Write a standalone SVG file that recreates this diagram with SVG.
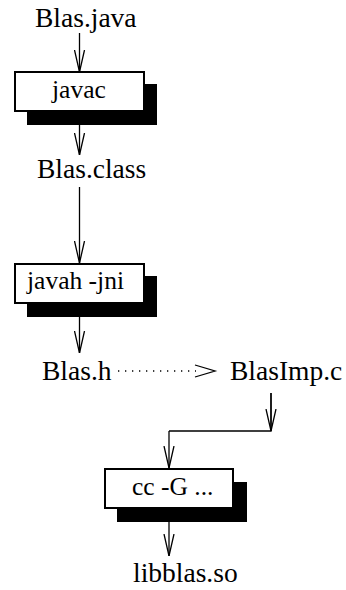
<svg xmlns="http://www.w3.org/2000/svg" width="346" height="590" viewBox="0 0 346 590">
<defs>
<marker id="v" viewBox="0 0 22 12" refX="22" refY="6" markerWidth="22" markerHeight="12" markerUnits="userSpaceOnUse" orient="auto">
<polyline points="0,1 22,6 0,11" fill="none" stroke="#000" stroke-width="1.3"/>
</marker>
<style>
.box{fill:#fff;stroke:#000;stroke-width:2}
.sh{fill:#000}
.ln{fill:none;stroke:#000;stroke-width:1.3}
.dot{fill:none;stroke:#000;stroke-width:1.3;stroke-dasharray:1.3 5.7}
text{font-family:"Liberation Serif",serif !important}
</style>
</defs>
<rect width="346" height="590" fill="#fff"/>
<g id="connectors">
<line class="ln" x1="79.5" y1="33" x2="79.5" y2="72" marker-end="url(#v)"/>
<line class="ln" x1="79.5" y1="125" x2="79.5" y2="155" marker-end="url(#v)"/>
<line class="ln" x1="79.5" y1="187" x2="79.5" y2="263" marker-end="url(#v)"/>
<line class="ln" x1="79.5" y1="317" x2="79.5" y2="353" marker-end="url(#v)"/>
<line class="dot" x1="118" y1="371" x2="196" y2="371"/>
<polyline class="ln" points="195,365 215,371 195,377"/>
<polyline class="ln" points="271,393 271,431 169,431"/>
<line class="ln" x1="271" y1="393" x2="271" y2="431" marker-end="url(#v)"/>
<line class="ln" x1="169" y1="431" x2="169" y2="468" marker-end="url(#v)"/>
<line class="ln" x1="169" y1="522" x2="169" y2="556" marker-end="url(#v)"/>
</g>
<g id="blas-java"><text x="35" y="27" style="font-family:'Liberation Serif',serif" font-size="27.5">Blas.java</text></g>
<g id="javac">
<rect class="sh" x="27" y="84" width="130" height="41"/>
<rect class="box" x="15" y="72" width="129" height="39"/>
<text x="52" y="98" style="font-family:'Liberation Serif',serif" font-size="25.5">javac</text>
</g>
<g id="blas-class"><text x="37" y="178" style="font-family:'Liberation Serif',serif" font-size="27.5">Blas.class</text></g>
<g id="javah">
<rect class="sh" x="27" y="276" width="130" height="41"/>
<rect class="box" x="15" y="264" width="129" height="39"/>
<text x="27" y="289" style="font-family:'Liberation Serif',serif" font-size="25.5">javah -jni</text>
</g>
<g id="blas-h"><text x="42" y="380" style="font-family:'Liberation Serif',serif" font-size="27.5">Blas.h</text></g>
<g id="blasimp-c"><text x="230" y="380" style="font-family:'Liberation Serif',serif" font-size="27.5">BlasImp.c</text></g>
<g id="cc">
<rect class="sh" x="117" y="482" width="130" height="40"/>
<rect class="box" x="105" y="469" width="128" height="39"/>
<text x="132" y="495" style="font-family:'Liberation Serif',serif" font-size="25.5">cc -G ...</text>
</g>
<g id="libblas-so"><text x="133" y="582" style="font-family:'Liberation Serif',serif" font-size="27.5">libblas.so</text></g>
</svg>
